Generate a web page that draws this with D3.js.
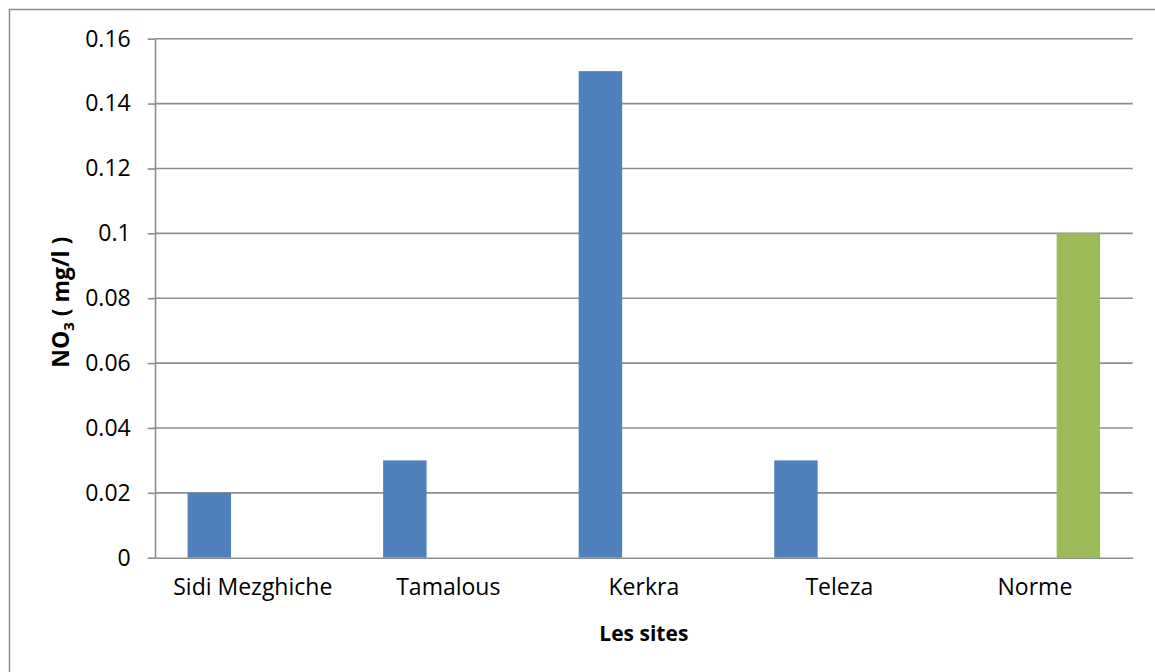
<!DOCTYPE html>
<html>
<head>
<meta charset="utf-8">
<script src="https://cdn.jsdelivr.net/npm/d3@7"></script>
<style>
  html, body { margin: 0; padding: 0; background: #fff; }
  svg { display: block; }
  text { font-family: "Open Sans", "Noto Sans", sans-serif; fill: #000; }
</style>
</head>
<body>
<svg id="chart" width="1155" height="672"></svg>
<script>
// ---- data ----
const categories = ["Sidi Mezghiche", "Tamalous", "Kerkra", "Teleza", "Norme"];
const seriesKeys = ["Sites", "Vide", "Norme"];          // Excel cluster with an empty middle series
const sitesValues = [0.02, 0.03, 0.15, 0.03, null];
const videValues  = [null, null, null, null, null];
const normeValues = [null, null, null, null, 0.1];
const yTickValues = [0, 0.02, 0.04, 0.06, 0.08, 0.1, 0.12, 0.14, 0.16];
const yTickLabels = ["0", "0.02", "0.04", "0.06", "0.08", "0.1", "0.12", "0.14", "0.16"];
const seriesColors = { "Sites": "#4F81BD", "Vide": "#C0504D", "Norme": "#9BBB59" };

// ---- layout ----
const svg = d3.select("#chart");
const W = 1155, H = 672;
const plot = { left: 155, right: 1132.7, top: 38.7, bottom: 557.7 };
const gridColor = "#8e8e8e";

// outer chart border
svg.append("rect")
  .attr("x", 9.5).attr("y", 9.5)
  .attr("width", W + 20).attr("height", H + 20)
  .attr("fill", "#fff").attr("stroke", "#8c8c8c").attr("stroke-width", 1.5);

const x = d3.scaleBand().domain(categories).range([plot.left, plot.right]).padding(0);
const x1 = d3.scaleBand().domain(seriesKeys).range([0, x.bandwidth()])
  .paddingInner(0).paddingOuter(0.75);
const y = d3.scaleLinear().domain([0, 0.16]).range([plot.bottom, plot.top]);

// gridlines
svg.append("g").selectAll("line").data(yTickValues.slice(1)).join("line")
  .attr("x1", plot.left).attr("x2", plot.right)
  .attr("y1", d => y(d)).attr("y2", d => y(d))
  .attr("stroke", gridColor).attr("stroke-width", 1.6);

// bars
const seriesData = { "Sites": sitesValues, "Vide": videValues, "Norme": normeValues };
const barData = [];
seriesKeys.forEach(k => {
  seriesData[k].forEach((v, i) => {
    if (v != null) barData.push({ key: k, cat: categories[i], value: v });
  });
});
svg.append("g").selectAll("rect").data(barData).join("rect")
  .attr("x", d => x(d.cat) + x1(d.key))
  .attr("width", x1.bandwidth())
  .attr("y", d => y(d.value))
  .attr("height", d => y(0) - y(d.value))
  .attr("fill", d => seriesColors[d.key]);

// y axis
const yAxis = d3.axisLeft(y).tickValues(yTickValues)
  .tickFormat((d, i) => yTickLabels[i]).tickSize(7.3).tickPadding(17).tickSizeOuter(0);
const gy = svg.append("g").attr("transform", `translate(${plot.left},0)`).call(yAxis);
gy.select(".domain").attr("stroke", gridColor).attr("stroke-width", 1.6);
gy.selectAll(".tick line").attr("stroke", gridColor).attr("stroke-width", 1.6);
gy.selectAll(".tick text").style("font-size", "23px").style("font-family", "'Open Sans', sans-serif").attr("fill", "#000");

// x axis
const xAxis = d3.axisBottom(x).tickSize(0).tickPadding(21).tickSizeOuter(0);
const gx = svg.append("g").attr("transform", `translate(0,${plot.bottom})`).call(xAxis);
gx.select(".domain").attr("stroke", gridColor).attr("stroke-width", 1.6);
gx.selectAll(".tick text").style("font-size", "23px").style("font-family", "'Open Sans', sans-serif").attr("fill", "#000");

// axis titles
svg.append("text")
  .attr("x", (plot.left + plot.right) / 2).attr("y", 641)
  .attr("text-anchor", "middle")
  .style("font-size", "21px").style("font-weight", "bold")
  .text("Les sites");

const yt = svg.append("text")
  .attr("transform", `translate(69,${(plot.top + plot.bottom) / 2 + 4}) rotate(-90)`)
  .attr("text-anchor", "middle")
  .style("font-size", "23px").style("font-weight", "bold");
yt.append("tspan").text("NO");
yt.append("tspan").attr("dy", 5).style("font-size", "15px").text("3");
yt.append("tspan").attr("dy", -5).text(" ( mg/l )");
</script>
</body>
</html>
